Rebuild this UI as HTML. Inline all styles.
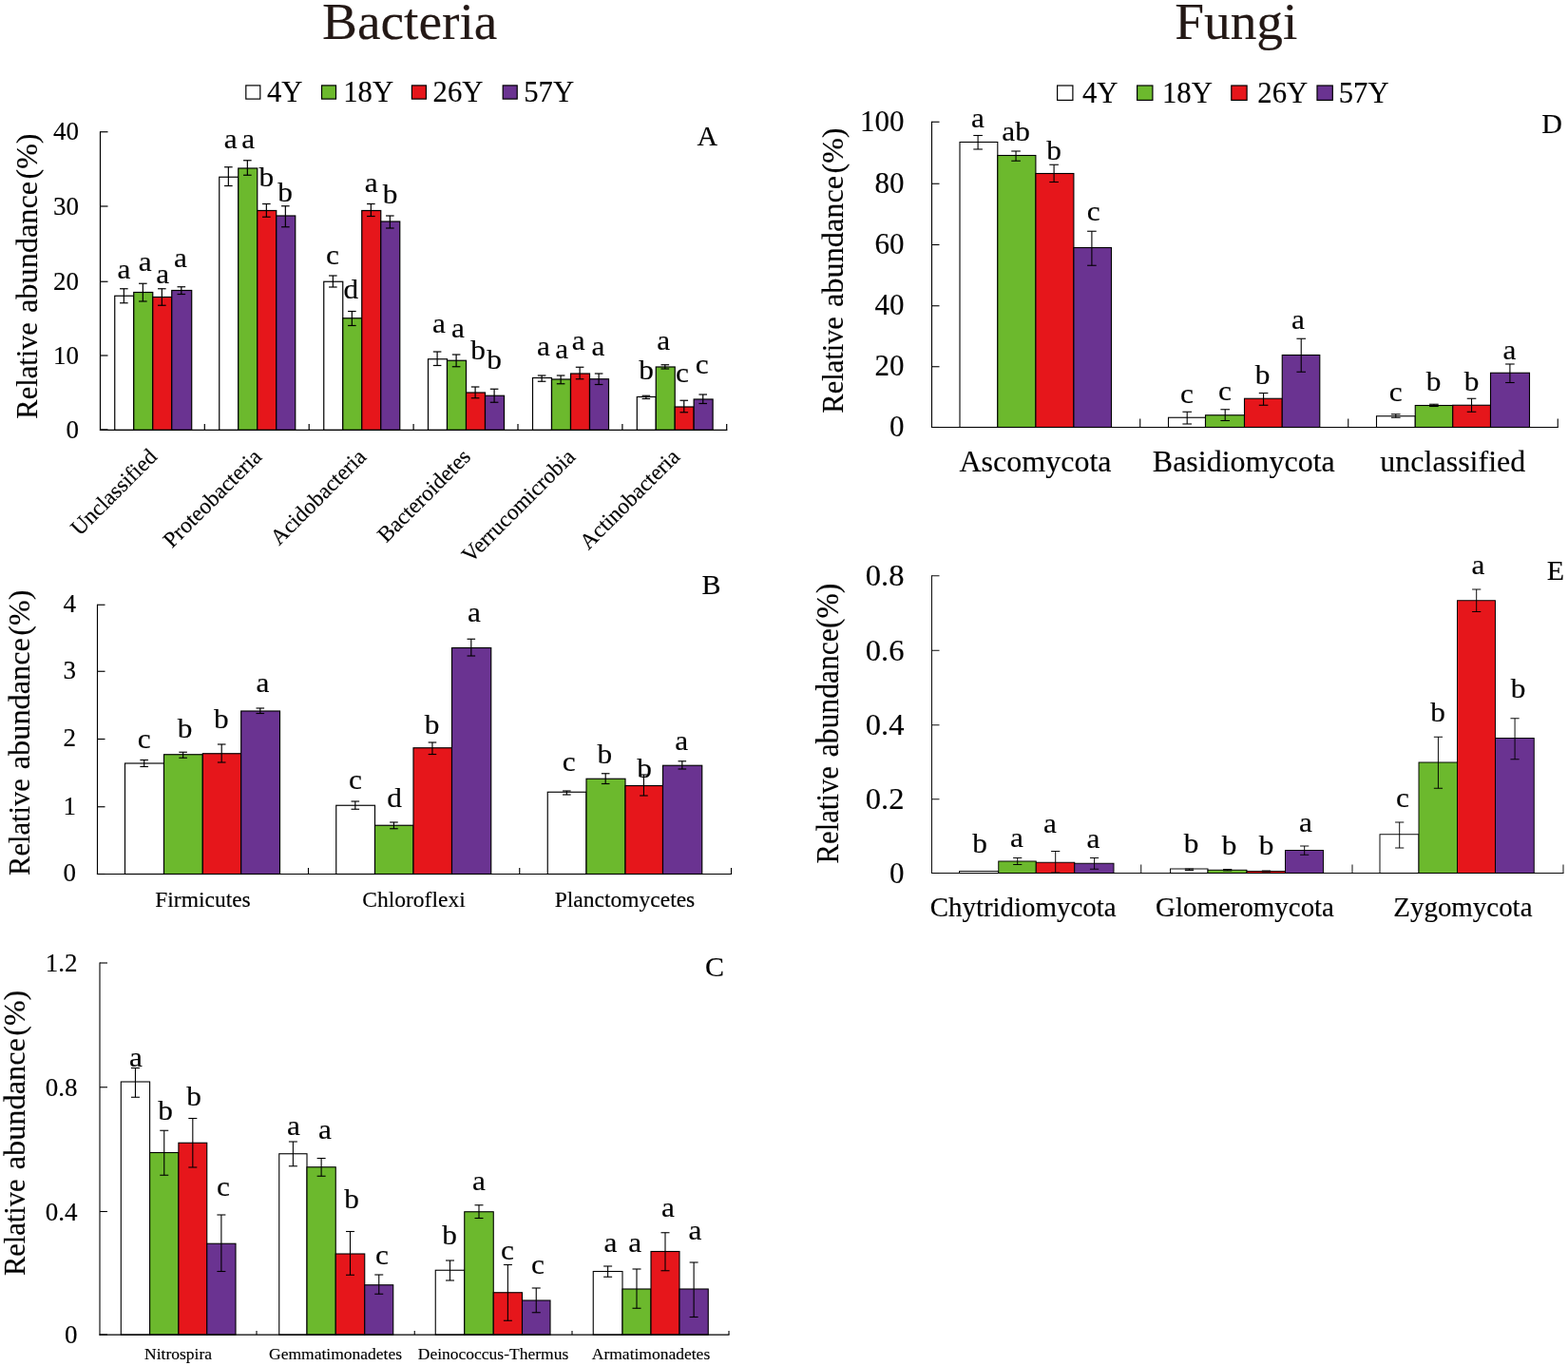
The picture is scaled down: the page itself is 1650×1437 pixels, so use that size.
<!DOCTYPE html>
<html lang="en">
<head>
<meta charset="utf-8">
<title>Bacteria and Fungi relative abundance</title>
<style>
html,body{margin:0;padding:0;background:#fff;}
body{width:1650px;height:1437px;overflow:hidden;}
svg{display:block;}
svg text.ttl{fill:#231815;stroke:#231815;}
svg text{font-family:"Liberation Serif","Times New Roman",Times,serif;fill:#000;stroke:#000;stroke-width:0.15px;stroke-linejoin:round;}
</style>
</head>
<body>
<svg width="1650" height="1437" viewBox="0 0 1650 1437" shape-rendering="geometricPrecision">
<rect x="0" y="0" width="1650" height="1437" fill="#ffffff"/>
<text transform="translate(431.20 41.30) scale(1.026 1)" font-size="54" text-anchor="middle" class="ttl">Bacteria</text>
<text transform="translate(1300.80 41.30) scale(1.026 1)" font-size="54" text-anchor="middle" class="ttl">Fungi</text>
<rect x="258.80" y="89.90" width="15.00" height="14.20" fill="#ffffff" stroke="#000" stroke-width="1.2"/>
<text transform="translate(281.00 106.70)" font-size="30.7" text-anchor="start">4Y</text>
<rect x="338.50" y="89.90" width="15.00" height="14.20" fill="#6cb92d" stroke="#000" stroke-width="1.2"/>
<text transform="translate(361.20 106.70)" font-size="30.7" text-anchor="start">18Y</text>
<rect x="433.40" y="89.90" width="15.00" height="14.20" fill="#e6161b" stroke="#000" stroke-width="1.2"/>
<text transform="translate(455.60 106.70)" font-size="30.7" text-anchor="start">26Y</text>
<rect x="529.20" y="89.90" width="15.00" height="14.20" fill="#6a3391" stroke="#000" stroke-width="1.2"/>
<text transform="translate(551.20 106.70)" font-size="30.7" text-anchor="start">57Y</text>
<rect x="1112.60" y="90.00" width="16.30" height="15.40" fill="#ffffff" stroke="#000" stroke-width="1.2"/>
<text transform="translate(1139.00 107.60)" font-size="30.7" text-anchor="start">4Y</text>
<rect x="1196.60" y="90.00" width="16.30" height="15.40" fill="#6cb92d" stroke="#000" stroke-width="1.2"/>
<text transform="translate(1223.00 107.60)" font-size="30.7" text-anchor="start">18Y</text>
<rect x="1295.80" y="90.00" width="16.30" height="15.40" fill="#e6161b" stroke="#000" stroke-width="1.2"/>
<text transform="translate(1323.30 107.60)" font-size="30.7" text-anchor="start">26Y</text>
<rect x="1386.00" y="90.00" width="16.30" height="15.40" fill="#6a3391" stroke="#000" stroke-width="1.2"/>
<text transform="translate(1408.70 107.60)" font-size="30.7" text-anchor="start">57Y</text>
<rect x="120.75" y="311.25" width="20.00" height="141.20" fill="#ffffff" stroke="#000" stroke-width="1.2"/>
<rect x="140.75" y="307.50" width="20.00" height="144.95" fill="#6cb92d" stroke="#000" stroke-width="1.2"/>
<rect x="160.75" y="312.50" width="20.00" height="139.95" fill="#e6161b" stroke="#000" stroke-width="1.2"/>
<rect x="180.75" y="305.50" width="20.95" height="146.95" fill="#6a3391" stroke="#000" stroke-width="1.2"/>
<rect x="230.75" y="186.25" width="20.00" height="266.20" fill="#ffffff" stroke="#000" stroke-width="1.2"/>
<rect x="250.75" y="177.00" width="20.00" height="275.45" fill="#6cb92d" stroke="#000" stroke-width="1.2"/>
<rect x="270.75" y="221.50" width="20.00" height="230.95" fill="#e6161b" stroke="#000" stroke-width="1.2"/>
<rect x="290.75" y="227.00" width="20.00" height="225.45" fill="#6a3391" stroke="#000" stroke-width="1.2"/>
<rect x="340.75" y="296.25" width="20.00" height="156.20" fill="#ffffff" stroke="#000" stroke-width="1.2"/>
<rect x="360.75" y="334.75" width="20.00" height="117.70" fill="#6cb92d" stroke="#000" stroke-width="1.2"/>
<rect x="380.75" y="221.50" width="20.00" height="230.95" fill="#e6161b" stroke="#000" stroke-width="1.2"/>
<rect x="400.75" y="233.00" width="20.00" height="219.45" fill="#6a3391" stroke="#000" stroke-width="1.2"/>
<rect x="450.50" y="377.75" width="20.00" height="74.70" fill="#ffffff" stroke="#000" stroke-width="1.2"/>
<rect x="470.50" y="379.25" width="20.00" height="73.20" fill="#6cb92d" stroke="#000" stroke-width="1.2"/>
<rect x="490.50" y="413.00" width="20.00" height="39.45" fill="#e6161b" stroke="#000" stroke-width="1.2"/>
<rect x="510.50" y="416.25" width="20.00" height="36.20" fill="#6a3391" stroke="#000" stroke-width="1.2"/>
<rect x="560.50" y="397.50" width="20.00" height="54.95" fill="#ffffff" stroke="#000" stroke-width="1.2"/>
<rect x="580.50" y="399.00" width="20.00" height="53.45" fill="#6cb92d" stroke="#000" stroke-width="1.2"/>
<rect x="600.50" y="393.00" width="20.00" height="59.45" fill="#e6161b" stroke="#000" stroke-width="1.2"/>
<rect x="620.50" y="398.75" width="20.00" height="53.70" fill="#6a3391" stroke="#000" stroke-width="1.2"/>
<rect x="670.30" y="417.50" width="19.95" height="34.95" fill="#ffffff" stroke="#000" stroke-width="1.2"/>
<rect x="690.25" y="386.00" width="19.95" height="66.45" fill="#6cb92d" stroke="#000" stroke-width="1.2"/>
<rect x="710.20" y="428.00" width="19.95" height="24.45" fill="#e6161b" stroke="#000" stroke-width="1.2"/>
<rect x="730.15" y="420.00" width="19.95" height="32.45" fill="#6a3391" stroke="#000" stroke-width="1.2"/>
<line x1="130.35" y1="303.75" x2="130.35" y2="318.75" stroke="#000" stroke-width="1.2"/>
<line x1="126.05" y1="303.75" x2="134.65" y2="303.75" stroke="#000" stroke-width="1.2"/>
<line x1="126.05" y1="318.75" x2="134.65" y2="318.75" stroke="#000" stroke-width="1.2"/>
<line x1="150.35" y1="298.25" x2="150.35" y2="317.00" stroke="#000" stroke-width="1.2"/>
<line x1="146.05" y1="298.25" x2="154.65" y2="298.25" stroke="#000" stroke-width="1.2"/>
<line x1="146.05" y1="317.00" x2="154.65" y2="317.00" stroke="#000" stroke-width="1.2"/>
<line x1="170.35" y1="303.75" x2="170.35" y2="321.25" stroke="#000" stroke-width="1.2"/>
<line x1="166.05" y1="303.75" x2="174.65" y2="303.75" stroke="#000" stroke-width="1.2"/>
<line x1="166.05" y1="321.25" x2="174.65" y2="321.25" stroke="#000" stroke-width="1.2"/>
<line x1="190.82" y1="301.75" x2="190.82" y2="309.50" stroke="#000" stroke-width="1.2"/>
<line x1="186.52" y1="301.75" x2="195.12" y2="301.75" stroke="#000" stroke-width="1.2"/>
<line x1="186.52" y1="309.50" x2="195.12" y2="309.50" stroke="#000" stroke-width="1.2"/>
<line x1="240.35" y1="175.75" x2="240.35" y2="195.50" stroke="#000" stroke-width="1.2"/>
<line x1="236.05" y1="175.75" x2="244.65" y2="175.75" stroke="#000" stroke-width="1.2"/>
<line x1="236.05" y1="195.50" x2="244.65" y2="195.50" stroke="#000" stroke-width="1.2"/>
<line x1="260.35" y1="168.75" x2="260.35" y2="184.25" stroke="#000" stroke-width="1.2"/>
<line x1="256.05" y1="168.75" x2="264.65" y2="168.75" stroke="#000" stroke-width="1.2"/>
<line x1="256.05" y1="184.25" x2="264.65" y2="184.25" stroke="#000" stroke-width="1.2"/>
<line x1="280.35" y1="214.50" x2="280.35" y2="228.25" stroke="#000" stroke-width="1.2"/>
<line x1="276.05" y1="214.50" x2="284.65" y2="214.50" stroke="#000" stroke-width="1.2"/>
<line x1="276.05" y1="228.25" x2="284.65" y2="228.25" stroke="#000" stroke-width="1.2"/>
<line x1="300.35" y1="216.75" x2="300.35" y2="238.75" stroke="#000" stroke-width="1.2"/>
<line x1="296.05" y1="216.75" x2="304.65" y2="216.75" stroke="#000" stroke-width="1.2"/>
<line x1="296.05" y1="238.75" x2="304.65" y2="238.75" stroke="#000" stroke-width="1.2"/>
<line x1="350.35" y1="290.00" x2="350.35" y2="302.00" stroke="#000" stroke-width="1.2"/>
<line x1="346.05" y1="290.00" x2="354.65" y2="290.00" stroke="#000" stroke-width="1.2"/>
<line x1="346.05" y1="302.00" x2="354.65" y2="302.00" stroke="#000" stroke-width="1.2"/>
<line x1="370.35" y1="327.50" x2="370.35" y2="342.50" stroke="#000" stroke-width="1.2"/>
<line x1="366.05" y1="327.50" x2="374.65" y2="327.50" stroke="#000" stroke-width="1.2"/>
<line x1="366.05" y1="342.50" x2="374.65" y2="342.50" stroke="#000" stroke-width="1.2"/>
<line x1="390.35" y1="214.50" x2="390.35" y2="227.50" stroke="#000" stroke-width="1.2"/>
<line x1="386.05" y1="214.50" x2="394.65" y2="214.50" stroke="#000" stroke-width="1.2"/>
<line x1="386.05" y1="227.50" x2="394.65" y2="227.50" stroke="#000" stroke-width="1.2"/>
<line x1="410.35" y1="227.00" x2="410.35" y2="240.00" stroke="#000" stroke-width="1.2"/>
<line x1="406.05" y1="227.00" x2="414.65" y2="227.00" stroke="#000" stroke-width="1.2"/>
<line x1="406.05" y1="240.00" x2="414.65" y2="240.00" stroke="#000" stroke-width="1.2"/>
<line x1="460.10" y1="370.00" x2="460.10" y2="384.50" stroke="#000" stroke-width="1.2"/>
<line x1="455.80" y1="370.00" x2="464.40" y2="370.00" stroke="#000" stroke-width="1.2"/>
<line x1="455.80" y1="384.50" x2="464.40" y2="384.50" stroke="#000" stroke-width="1.2"/>
<line x1="480.10" y1="373.00" x2="480.10" y2="385.75" stroke="#000" stroke-width="1.2"/>
<line x1="475.80" y1="373.00" x2="484.40" y2="373.00" stroke="#000" stroke-width="1.2"/>
<line x1="475.80" y1="385.75" x2="484.40" y2="385.75" stroke="#000" stroke-width="1.2"/>
<line x1="500.10" y1="407.00" x2="500.10" y2="418.75" stroke="#000" stroke-width="1.2"/>
<line x1="495.80" y1="407.00" x2="504.40" y2="407.00" stroke="#000" stroke-width="1.2"/>
<line x1="495.80" y1="418.75" x2="504.40" y2="418.75" stroke="#000" stroke-width="1.2"/>
<line x1="520.10" y1="409.25" x2="520.10" y2="423.25" stroke="#000" stroke-width="1.2"/>
<line x1="515.80" y1="409.25" x2="524.40" y2="409.25" stroke="#000" stroke-width="1.2"/>
<line x1="515.80" y1="423.25" x2="524.40" y2="423.25" stroke="#000" stroke-width="1.2"/>
<line x1="570.10" y1="395.00" x2="570.10" y2="401.25" stroke="#000" stroke-width="1.2"/>
<line x1="565.80" y1="395.00" x2="574.40" y2="395.00" stroke="#000" stroke-width="1.2"/>
<line x1="565.80" y1="401.25" x2="574.40" y2="401.25" stroke="#000" stroke-width="1.2"/>
<line x1="590.10" y1="395.00" x2="590.10" y2="403.75" stroke="#000" stroke-width="1.2"/>
<line x1="585.80" y1="395.00" x2="594.40" y2="395.00" stroke="#000" stroke-width="1.2"/>
<line x1="585.80" y1="403.75" x2="594.40" y2="403.75" stroke="#000" stroke-width="1.2"/>
<line x1="610.10" y1="386.25" x2="610.10" y2="398.75" stroke="#000" stroke-width="1.2"/>
<line x1="605.80" y1="386.25" x2="614.40" y2="386.25" stroke="#000" stroke-width="1.2"/>
<line x1="605.80" y1="398.75" x2="614.40" y2="398.75" stroke="#000" stroke-width="1.2"/>
<line x1="630.10" y1="393.00" x2="630.10" y2="404.50" stroke="#000" stroke-width="1.2"/>
<line x1="625.80" y1="393.00" x2="634.40" y2="393.00" stroke="#000" stroke-width="1.2"/>
<line x1="625.80" y1="404.50" x2="634.40" y2="404.50" stroke="#000" stroke-width="1.2"/>
<line x1="679.88" y1="416.25" x2="679.88" y2="419.50" stroke="#000" stroke-width="1.2"/>
<line x1="675.58" y1="416.25" x2="684.17" y2="416.25" stroke="#000" stroke-width="1.2"/>
<line x1="675.58" y1="419.50" x2="684.17" y2="419.50" stroke="#000" stroke-width="1.2"/>
<line x1="699.82" y1="383.75" x2="699.82" y2="388.00" stroke="#000" stroke-width="1.2"/>
<line x1="695.52" y1="383.75" x2="704.12" y2="383.75" stroke="#000" stroke-width="1.2"/>
<line x1="695.52" y1="388.00" x2="704.12" y2="388.00" stroke="#000" stroke-width="1.2"/>
<line x1="719.77" y1="421.25" x2="719.77" y2="433.75" stroke="#000" stroke-width="1.2"/>
<line x1="715.48" y1="421.25" x2="724.07" y2="421.25" stroke="#000" stroke-width="1.2"/>
<line x1="715.48" y1="433.75" x2="724.07" y2="433.75" stroke="#000" stroke-width="1.2"/>
<line x1="739.73" y1="415.00" x2="739.73" y2="424.50" stroke="#000" stroke-width="1.2"/>
<line x1="735.43" y1="415.00" x2="744.02" y2="415.00" stroke="#000" stroke-width="1.2"/>
<line x1="735.43" y1="424.50" x2="744.02" y2="424.50" stroke="#000" stroke-width="1.2"/>
<line x1="105.50" y1="138.15" x2="105.50" y2="453.05" stroke="#000" stroke-width="1.2"/>
<line x1="104.90" y1="452.45" x2="765.30" y2="452.45" stroke="#000" stroke-width="1.2"/>
<line x1="105.50" y1="138.75" x2="113.50" y2="138.75" stroke="#000" stroke-width="1.2"/>
<text transform="translate(83.00 147.25)" font-size="27" text-anchor="end">40</text>
<line x1="105.50" y1="217.00" x2="113.50" y2="217.00" stroke="#000" stroke-width="1.2"/>
<text transform="translate(83.00 225.50)" font-size="27" text-anchor="end">30</text>
<line x1="105.50" y1="296.25" x2="113.50" y2="296.25" stroke="#000" stroke-width="1.2"/>
<text transform="translate(83.00 304.75)" font-size="27" text-anchor="end">20</text>
<line x1="105.50" y1="374.00" x2="113.50" y2="374.00" stroke="#000" stroke-width="1.2"/>
<text transform="translate(83.00 382.50)" font-size="27" text-anchor="end">10</text>
<line x1="105.50" y1="452.00" x2="113.50" y2="452.00" stroke="#000" stroke-width="1.2"/>
<text transform="translate(83.00 460.50)" font-size="27" text-anchor="end">0</text>
<line x1="215.30" y1="452.45" x2="215.30" y2="445.95" stroke="#000" stroke-width="1.2"/>
<line x1="325.20" y1="452.45" x2="325.20" y2="445.95" stroke="#000" stroke-width="1.2"/>
<line x1="435.10" y1="452.45" x2="435.10" y2="445.95" stroke="#000" stroke-width="1.2"/>
<line x1="545.00" y1="452.45" x2="545.00" y2="445.95" stroke="#000" stroke-width="1.2"/>
<line x1="654.90" y1="452.45" x2="654.90" y2="445.95" stroke="#000" stroke-width="1.2"/>
<line x1="764.70" y1="452.45" x2="764.70" y2="445.95" stroke="#000" stroke-width="1.2"/>
<text transform="translate(130.50 292.80) scale(1.08 1)" font-size="29" text-anchor="middle" stroke-width="0.3">a</text>
<text transform="translate(152.70 285.30) scale(1.08 1)" font-size="29" text-anchor="middle" stroke-width="0.3">a</text>
<text transform="translate(171.25 297.80) scale(1.08 1)" font-size="29" text-anchor="middle" stroke-width="0.3">a</text>
<text transform="translate(190.00 280.50) scale(1.08 1)" font-size="29" text-anchor="middle" stroke-width="0.3">a</text>
<text transform="translate(242.70 156.00) scale(1.08 1)" font-size="29" text-anchor="middle" stroke-width="0.3">a</text>
<text transform="translate(261.25 156.00) scale(1.08 1)" font-size="29" text-anchor="middle" stroke-width="0.3">a</text>
<text transform="translate(280.30 195.80) scale(1.08 1)" font-size="29" text-anchor="middle" stroke-width="0.3">b</text>
<text transform="translate(300.00 211.80) scale(1.08 1)" font-size="29" text-anchor="middle" stroke-width="0.3">b</text>
<text transform="translate(350.00 277.80) scale(1.08 1)" font-size="29" text-anchor="middle" stroke-width="0.3">c</text>
<text transform="translate(369.25 313.80) scale(1.08 1)" font-size="29" text-anchor="middle" stroke-width="0.3">d</text>
<text transform="translate(390.75 202.30) scale(1.08 1)" font-size="29" text-anchor="middle" stroke-width="0.3">a</text>
<text transform="translate(410.50 213.50) scale(1.08 1)" font-size="29" text-anchor="middle" stroke-width="0.3">b</text>
<text transform="translate(462.00 350.00) scale(1.08 1)" font-size="29" text-anchor="middle" stroke-width="0.3">a</text>
<text transform="translate(482.00 355.00) scale(1.08 1)" font-size="29" text-anchor="middle" stroke-width="0.3">a</text>
<text transform="translate(503.00 378.00) scale(1.08 1)" font-size="29" text-anchor="middle" stroke-width="0.3">b</text>
<text transform="translate(520.00 388.00) scale(1.08 1)" font-size="29" text-anchor="middle" stroke-width="0.3">b</text>
<text transform="translate(572.00 373.75) scale(1.08 1)" font-size="29" text-anchor="middle" stroke-width="0.3">a</text>
<text transform="translate(591.25 377.00) scale(1.08 1)" font-size="29" text-anchor="middle" stroke-width="0.3">a</text>
<text transform="translate(608.75 367.50) scale(1.08 1)" font-size="29" text-anchor="middle" stroke-width="0.3">a</text>
<text transform="translate(629.50 373.75) scale(1.08 1)" font-size="29" text-anchor="middle" stroke-width="0.3">a</text>
<text transform="translate(680.00 398.75) scale(1.08 1)" font-size="29" text-anchor="middle" stroke-width="0.3">b</text>
<text transform="translate(698.25 367.50) scale(1.08 1)" font-size="29" text-anchor="middle" stroke-width="0.3">a</text>
<text transform="translate(718.00 402.00) scale(1.08 1)" font-size="29" text-anchor="middle" stroke-width="0.3">c</text>
<text transform="translate(738.75 393.00) scale(1.08 1)" font-size="29" text-anchor="middle" stroke-width="0.3">c</text>
<text transform="translate(39.40 439.80) rotate(-90)" font-size="32" text-anchor="start"><tspan x="-0.91" textLength="101.59" lengthAdjust="spacingAndGlyphs">Relative</tspan> <tspan x="110.77" textLength="138.17" lengthAdjust="spacingAndGlyphs">abundance</tspan> <tspan x="251.36" textLength="47.95" lengthAdjust="spacingAndGlyphs">(%)</tspan></text>
<text transform="translate(166.50 481.80) rotate(-45)" font-size="23.4" text-anchor="end">Unclassified</text>
<text transform="translate(276.50 481.80) rotate(-45)" font-size="23.4" text-anchor="end">Proteobacteria</text>
<text transform="translate(386.50 481.80) rotate(-45)" font-size="23.4" text-anchor="end">Acidobacteria</text>
<text transform="translate(496.50 481.80) rotate(-45)" font-size="23.4" text-anchor="end">Bacteroidetes</text>
<text transform="translate(606.50 481.80) rotate(-45)" font-size="23.4" text-anchor="end">Verrucomicrobia</text>
<text transform="translate(716.50 481.80) rotate(-45)" font-size="23.4" text-anchor="end">Actinobacteria</text>
<text transform="translate(744.25 152.60)" font-size="30" text-anchor="middle">A</text>
<rect x="131.50" y="803.00" width="41.00" height="116.50" fill="#ffffff" stroke="#000" stroke-width="1.15"/>
<rect x="172.50" y="793.75" width="40.80" height="125.75" fill="#6cb92d" stroke="#000" stroke-width="1.15"/>
<rect x="213.30" y="792.75" width="40.40" height="126.75" fill="#e6161b" stroke="#000" stroke-width="1.15"/>
<rect x="253.70" y="748.00" width="40.80" height="171.50" fill="#6a3391" stroke="#000" stroke-width="1.15"/>
<rect x="353.75" y="847.25" width="40.75" height="72.25" fill="#ffffff" stroke="#000" stroke-width="1.15"/>
<rect x="394.50" y="868.25" width="40.50" height="51.25" fill="#6cb92d" stroke="#000" stroke-width="1.15"/>
<rect x="435.00" y="786.75" width="40.50" height="132.75" fill="#e6161b" stroke="#000" stroke-width="1.15"/>
<rect x="475.50" y="681.50" width="41.25" height="238.00" fill="#6a3391" stroke="#000" stroke-width="1.15"/>
<rect x="576.25" y="833.25" width="40.75" height="86.25" fill="#ffffff" stroke="#000" stroke-width="1.15"/>
<rect x="617.00" y="819.25" width="41.00" height="100.25" fill="#6cb92d" stroke="#000" stroke-width="1.15"/>
<rect x="658.00" y="826.50" width="39.50" height="93.00" fill="#e6161b" stroke="#000" stroke-width="1.15"/>
<rect x="697.50" y="805.25" width="41.25" height="114.25" fill="#6a3391" stroke="#000" stroke-width="1.15"/>
<line x1="151.70" y1="799.50" x2="151.70" y2="806.50" stroke="#000" stroke-width="1.15"/>
<line x1="147.40" y1="799.50" x2="156.00" y2="799.50" stroke="#000" stroke-width="1.15"/>
<line x1="147.40" y1="806.50" x2="156.00" y2="806.50" stroke="#000" stroke-width="1.15"/>
<line x1="192.60" y1="791.25" x2="192.60" y2="797.25" stroke="#000" stroke-width="1.15"/>
<line x1="188.30" y1="791.25" x2="196.90" y2="791.25" stroke="#000" stroke-width="1.15"/>
<line x1="188.30" y1="797.25" x2="196.90" y2="797.25" stroke="#000" stroke-width="1.15"/>
<line x1="233.20" y1="783.00" x2="233.20" y2="802.00" stroke="#000" stroke-width="1.15"/>
<line x1="228.90" y1="783.00" x2="237.50" y2="783.00" stroke="#000" stroke-width="1.15"/>
<line x1="228.90" y1="802.00" x2="237.50" y2="802.00" stroke="#000" stroke-width="1.15"/>
<line x1="273.80" y1="745.00" x2="273.80" y2="750.50" stroke="#000" stroke-width="1.15"/>
<line x1="269.50" y1="745.00" x2="278.10" y2="745.00" stroke="#000" stroke-width="1.15"/>
<line x1="269.50" y1="750.50" x2="278.10" y2="750.50" stroke="#000" stroke-width="1.15"/>
<line x1="373.82" y1="843.00" x2="373.82" y2="851.25" stroke="#000" stroke-width="1.15"/>
<line x1="369.52" y1="843.00" x2="378.12" y2="843.00" stroke="#000" stroke-width="1.15"/>
<line x1="369.52" y1="851.25" x2="378.12" y2="851.25" stroke="#000" stroke-width="1.15"/>
<line x1="414.45" y1="865.00" x2="414.45" y2="871.75" stroke="#000" stroke-width="1.15"/>
<line x1="410.15" y1="865.00" x2="418.75" y2="865.00" stroke="#000" stroke-width="1.15"/>
<line x1="410.15" y1="871.75" x2="418.75" y2="871.75" stroke="#000" stroke-width="1.15"/>
<line x1="454.95" y1="781.00" x2="454.95" y2="793.50" stroke="#000" stroke-width="1.15"/>
<line x1="450.65" y1="781.00" x2="459.25" y2="781.00" stroke="#000" stroke-width="1.15"/>
<line x1="450.65" y1="793.50" x2="459.25" y2="793.50" stroke="#000" stroke-width="1.15"/>
<line x1="495.82" y1="672.25" x2="495.82" y2="690.00" stroke="#000" stroke-width="1.15"/>
<line x1="491.52" y1="672.25" x2="500.12" y2="672.25" stroke="#000" stroke-width="1.15"/>
<line x1="491.52" y1="690.00" x2="500.12" y2="690.00" stroke="#000" stroke-width="1.15"/>
<line x1="596.33" y1="832.00" x2="596.33" y2="836.00" stroke="#000" stroke-width="1.15"/>
<line x1="592.03" y1="832.00" x2="600.62" y2="832.00" stroke="#000" stroke-width="1.15"/>
<line x1="592.03" y1="836.00" x2="600.62" y2="836.00" stroke="#000" stroke-width="1.15"/>
<line x1="637.20" y1="813.75" x2="637.20" y2="824.50" stroke="#000" stroke-width="1.15"/>
<line x1="632.90" y1="813.75" x2="641.50" y2="813.75" stroke="#000" stroke-width="1.15"/>
<line x1="632.90" y1="824.50" x2="641.50" y2="824.50" stroke="#000" stroke-width="1.15"/>
<line x1="677.45" y1="815.00" x2="677.45" y2="837.00" stroke="#000" stroke-width="1.15"/>
<line x1="673.15" y1="815.00" x2="681.75" y2="815.00" stroke="#000" stroke-width="1.15"/>
<line x1="673.15" y1="837.00" x2="681.75" y2="837.00" stroke="#000" stroke-width="1.15"/>
<line x1="717.83" y1="800.75" x2="717.83" y2="809.00" stroke="#000" stroke-width="1.15"/>
<line x1="713.53" y1="800.75" x2="722.12" y2="800.75" stroke="#000" stroke-width="1.15"/>
<line x1="713.53" y1="809.00" x2="722.12" y2="809.00" stroke="#000" stroke-width="1.15"/>
<line x1="102.50" y1="635.67" x2="102.50" y2="920.08" stroke="#000" stroke-width="1.15"/>
<line x1="101.92" y1="919.50" x2="770.08" y2="919.50" stroke="#000" stroke-width="1.15"/>
<line x1="102.50" y1="636.25" x2="110.50" y2="636.25" stroke="#000" stroke-width="1.15"/>
<text transform="translate(80.00 644.05)" font-size="27" text-anchor="end">4</text>
<line x1="102.50" y1="706.25" x2="110.50" y2="706.25" stroke="#000" stroke-width="1.15"/>
<text transform="translate(80.00 714.05)" font-size="27" text-anchor="end">3</text>
<line x1="102.50" y1="777.50" x2="110.50" y2="777.50" stroke="#000" stroke-width="1.15"/>
<text transform="translate(80.00 785.30)" font-size="27" text-anchor="end">2</text>
<line x1="102.50" y1="848.75" x2="110.50" y2="848.75" stroke="#000" stroke-width="1.15"/>
<text transform="translate(80.00 856.55)" font-size="27" text-anchor="end">1</text>
<line x1="102.50" y1="919.50" x2="110.50" y2="919.50" stroke="#000" stroke-width="1.15"/>
<text transform="translate(80.00 927.30)" font-size="27" text-anchor="end">0</text>
<line x1="324.50" y1="919.50" x2="324.50" y2="913.00" stroke="#000" stroke-width="1.15"/>
<line x1="546.75" y1="919.50" x2="546.75" y2="913.00" stroke="#000" stroke-width="1.15"/>
<line x1="769.50" y1="919.50" x2="769.50" y2="913.00" stroke="#000" stroke-width="1.15"/>
<text transform="translate(151.80 787.40) scale(1.08 1)" font-size="29" text-anchor="middle" stroke-width="0.3">c</text>
<text transform="translate(194.50 775.60) scale(1.08 1)" font-size="29" text-anchor="middle" stroke-width="0.3">b</text>
<text transform="translate(232.80 765.90) scale(1.08 1)" font-size="29" text-anchor="middle" stroke-width="0.3">b</text>
<text transform="translate(276.50 727.70) scale(1.08 1)" font-size="29" text-anchor="middle" stroke-width="0.3">a</text>
<text transform="translate(374.00 830.30) scale(1.08 1)" font-size="29" text-anchor="middle" stroke-width="0.3">c</text>
<text transform="translate(415.00 849.00) scale(1.08 1)" font-size="29" text-anchor="middle" stroke-width="0.3">d</text>
<text transform="translate(454.50 771.70) scale(1.08 1)" font-size="29" text-anchor="middle" stroke-width="0.3">b</text>
<text transform="translate(499.00 654.00) scale(1.08 1)" font-size="29" text-anchor="middle" stroke-width="0.3">a</text>
<text transform="translate(598.60 811.20) scale(1.08 1)" font-size="29" text-anchor="middle" stroke-width="0.3">c</text>
<text transform="translate(636.40 802.50) scale(1.08 1)" font-size="29" text-anchor="middle" stroke-width="0.3">b</text>
<text transform="translate(678.00 818.00) scale(1.08 1)" font-size="29" text-anchor="middle" stroke-width="0.3">b</text>
<text transform="translate(717.30 788.50) scale(1.08 1)" font-size="29" text-anchor="middle" stroke-width="0.3">a</text>
<text transform="translate(30.50 920.00) rotate(-90)" font-size="32" text-anchor="start"><tspan x="-0.91" textLength="101.59" lengthAdjust="spacingAndGlyphs">Relative</tspan> <tspan x="110.77" textLength="138.17" lengthAdjust="spacingAndGlyphs">abundance</tspan> <tspan x="251.36" textLength="47.95" lengthAdjust="spacingAndGlyphs">(%)</tspan></text>
<text transform="translate(213.50 954.30)" font-size="23.5" text-anchor="middle">Firmicutes</text>
<text transform="translate(435.50 954.30)" font-size="23.5" text-anchor="middle">Chloroflexi</text>
<text transform="translate(657.50 954.30)" font-size="23.5" text-anchor="middle">Planctomycetes</text>
<text transform="translate(748.50 625.20)" font-size="30" text-anchor="middle">B</text>
<rect x="127.30" y="1138.00" width="30.30" height="266.10" fill="#ffffff" stroke="#000" stroke-width="1.1"/>
<rect x="157.60" y="1212.50" width="30.30" height="191.60" fill="#6cb92d" stroke="#000" stroke-width="1.1"/>
<rect x="187.90" y="1202.25" width="29.85" height="201.85" fill="#e6161b" stroke="#000" stroke-width="1.1"/>
<rect x="217.75" y="1308.25" width="30.25" height="95.85" fill="#6a3391" stroke="#000" stroke-width="1.1"/>
<rect x="293.75" y="1213.75" width="29.25" height="190.35" fill="#ffffff" stroke="#000" stroke-width="1.1"/>
<rect x="323.00" y="1227.75" width="30.25" height="176.35" fill="#6cb92d" stroke="#000" stroke-width="1.1"/>
<rect x="353.25" y="1319.00" width="30.50" height="85.10" fill="#e6161b" stroke="#000" stroke-width="1.1"/>
<rect x="383.75" y="1351.75" width="30.00" height="52.35" fill="#6a3391" stroke="#000" stroke-width="1.1"/>
<rect x="458.25" y="1336.25" width="30.50" height="67.85" fill="#ffffff" stroke="#000" stroke-width="1.1"/>
<rect x="488.75" y="1274.75" width="30.50" height="129.35" fill="#6cb92d" stroke="#000" stroke-width="1.1"/>
<rect x="519.25" y="1359.75" width="30.25" height="44.35" fill="#e6161b" stroke="#000" stroke-width="1.1"/>
<rect x="549.50" y="1368.00" width="29.50" height="36.10" fill="#6a3391" stroke="#000" stroke-width="1.1"/>
<rect x="624.25" y="1337.50" width="30.75" height="66.60" fill="#ffffff" stroke="#000" stroke-width="1.1"/>
<rect x="655.00" y="1356.00" width="30.00" height="48.10" fill="#6cb92d" stroke="#000" stroke-width="1.1"/>
<rect x="685.00" y="1316.50" width="30.00" height="87.60" fill="#e6161b" stroke="#000" stroke-width="1.1"/>
<rect x="715.00" y="1356.00" width="30.25" height="48.10" fill="#6a3391" stroke="#000" stroke-width="1.1"/>
<line x1="142.45" y1="1123.50" x2="142.45" y2="1154.25" stroke="#000" stroke-width="1.1"/>
<line x1="137.95" y1="1123.50" x2="146.95" y2="1123.50" stroke="#000" stroke-width="1.1"/>
<line x1="137.95" y1="1154.25" x2="146.95" y2="1154.25" stroke="#000" stroke-width="1.1"/>
<line x1="172.75" y1="1189.25" x2="172.75" y2="1236.25" stroke="#000" stroke-width="1.1"/>
<line x1="168.25" y1="1189.25" x2="177.25" y2="1189.25" stroke="#000" stroke-width="1.1"/>
<line x1="168.25" y1="1236.25" x2="177.25" y2="1236.25" stroke="#000" stroke-width="1.1"/>
<line x1="202.82" y1="1176.50" x2="202.82" y2="1228.00" stroke="#000" stroke-width="1.1"/>
<line x1="198.32" y1="1176.50" x2="207.32" y2="1176.50" stroke="#000" stroke-width="1.1"/>
<line x1="198.32" y1="1228.00" x2="207.32" y2="1228.00" stroke="#000" stroke-width="1.1"/>
<line x1="232.88" y1="1278.00" x2="232.88" y2="1337.50" stroke="#000" stroke-width="1.1"/>
<line x1="228.38" y1="1278.00" x2="237.38" y2="1278.00" stroke="#000" stroke-width="1.1"/>
<line x1="228.38" y1="1337.50" x2="237.38" y2="1337.50" stroke="#000" stroke-width="1.1"/>
<line x1="308.38" y1="1201.00" x2="308.38" y2="1226.75" stroke="#000" stroke-width="1.1"/>
<line x1="303.88" y1="1201.00" x2="312.88" y2="1201.00" stroke="#000" stroke-width="1.1"/>
<line x1="303.88" y1="1226.75" x2="312.88" y2="1226.75" stroke="#000" stroke-width="1.1"/>
<line x1="338.12" y1="1218.50" x2="338.12" y2="1237.25" stroke="#000" stroke-width="1.1"/>
<line x1="333.62" y1="1218.50" x2="342.62" y2="1218.50" stroke="#000" stroke-width="1.1"/>
<line x1="333.62" y1="1237.25" x2="342.62" y2="1237.25" stroke="#000" stroke-width="1.1"/>
<line x1="368.50" y1="1295.50" x2="368.50" y2="1341.25" stroke="#000" stroke-width="1.1"/>
<line x1="364.00" y1="1295.50" x2="373.00" y2="1295.50" stroke="#000" stroke-width="1.1"/>
<line x1="364.00" y1="1341.25" x2="373.00" y2="1341.25" stroke="#000" stroke-width="1.1"/>
<line x1="398.75" y1="1341.00" x2="398.75" y2="1361.25" stroke="#000" stroke-width="1.1"/>
<line x1="394.25" y1="1341.00" x2="403.25" y2="1341.00" stroke="#000" stroke-width="1.1"/>
<line x1="394.25" y1="1361.25" x2="403.25" y2="1361.25" stroke="#000" stroke-width="1.1"/>
<line x1="473.50" y1="1326.00" x2="473.50" y2="1347.00" stroke="#000" stroke-width="1.1"/>
<line x1="469.00" y1="1326.00" x2="478.00" y2="1326.00" stroke="#000" stroke-width="1.1"/>
<line x1="469.00" y1="1347.00" x2="478.00" y2="1347.00" stroke="#000" stroke-width="1.1"/>
<line x1="504.00" y1="1267.75" x2="504.00" y2="1281.50" stroke="#000" stroke-width="1.1"/>
<line x1="499.50" y1="1267.75" x2="508.50" y2="1267.75" stroke="#000" stroke-width="1.1"/>
<line x1="499.50" y1="1281.50" x2="508.50" y2="1281.50" stroke="#000" stroke-width="1.1"/>
<line x1="534.38" y1="1330.50" x2="534.38" y2="1389.25" stroke="#000" stroke-width="1.1"/>
<line x1="529.88" y1="1330.50" x2="538.88" y2="1330.50" stroke="#000" stroke-width="1.1"/>
<line x1="529.88" y1="1389.25" x2="538.88" y2="1389.25" stroke="#000" stroke-width="1.1"/>
<line x1="564.25" y1="1355.00" x2="564.25" y2="1380.75" stroke="#000" stroke-width="1.1"/>
<line x1="559.75" y1="1355.00" x2="568.75" y2="1355.00" stroke="#000" stroke-width="1.1"/>
<line x1="559.75" y1="1380.75" x2="568.75" y2="1380.75" stroke="#000" stroke-width="1.1"/>
<line x1="639.62" y1="1332.00" x2="639.62" y2="1343.25" stroke="#000" stroke-width="1.1"/>
<line x1="635.12" y1="1332.00" x2="644.12" y2="1332.00" stroke="#000" stroke-width="1.1"/>
<line x1="635.12" y1="1343.25" x2="644.12" y2="1343.25" stroke="#000" stroke-width="1.1"/>
<line x1="670.00" y1="1335.00" x2="670.00" y2="1376.25" stroke="#000" stroke-width="1.1"/>
<line x1="665.50" y1="1335.00" x2="674.50" y2="1335.00" stroke="#000" stroke-width="1.1"/>
<line x1="665.50" y1="1376.25" x2="674.50" y2="1376.25" stroke="#000" stroke-width="1.1"/>
<line x1="700.00" y1="1296.75" x2="700.00" y2="1336.75" stroke="#000" stroke-width="1.1"/>
<line x1="695.50" y1="1296.75" x2="704.50" y2="1296.75" stroke="#000" stroke-width="1.1"/>
<line x1="695.50" y1="1336.75" x2="704.50" y2="1336.75" stroke="#000" stroke-width="1.1"/>
<line x1="730.12" y1="1328.00" x2="730.12" y2="1385.50" stroke="#000" stroke-width="1.1"/>
<line x1="725.62" y1="1328.00" x2="734.62" y2="1328.00" stroke="#000" stroke-width="1.1"/>
<line x1="725.62" y1="1385.50" x2="734.62" y2="1385.50" stroke="#000" stroke-width="1.1"/>
<line x1="105.00" y1="1012.45" x2="105.00" y2="1404.65" stroke="#000" stroke-width="1.1"/>
<line x1="104.45" y1="1404.10" x2="767.55" y2="1404.10" stroke="#000" stroke-width="1.1"/>
<line x1="105.00" y1="1013.00" x2="113.00" y2="1013.00" stroke="#000" stroke-width="1.1"/>
<text transform="translate(81.50 1022.00)" font-size="27" text-anchor="end">1.2</text>
<line x1="105.00" y1="1143.75" x2="113.00" y2="1143.75" stroke="#000" stroke-width="1.1"/>
<text transform="translate(81.50 1152.75)" font-size="27" text-anchor="end">0.8</text>
<line x1="105.00" y1="1274.50" x2="113.00" y2="1274.50" stroke="#000" stroke-width="1.1"/>
<text transform="translate(81.50 1283.50)" font-size="27" text-anchor="end">0.4</text>
<line x1="105.00" y1="1404.00" x2="113.00" y2="1404.00" stroke="#000" stroke-width="1.1"/>
<text transform="translate(81.50 1413.00)" font-size="27" text-anchor="end">0</text>
<line x1="270.00" y1="1404.10" x2="270.00" y2="1400.10" stroke="#000" stroke-width="1.1"/>
<line x1="436.25" y1="1404.10" x2="436.25" y2="1400.10" stroke="#000" stroke-width="1.1"/>
<line x1="602.00" y1="1404.10" x2="602.00" y2="1400.10" stroke="#000" stroke-width="1.1"/>
<line x1="767.00" y1="1404.10" x2="767.00" y2="1400.10" stroke="#000" stroke-width="1.1"/>
<text transform="translate(143.00 1121.50) scale(1.08 1)" font-size="29" text-anchor="middle" stroke-width="0.3">a</text>
<text transform="translate(174.00 1177.50) scale(1.08 1)" font-size="29" text-anchor="middle" stroke-width="0.3">b</text>
<text transform="translate(204.00 1162.50) scale(1.08 1)" font-size="29" text-anchor="middle" stroke-width="0.3">b</text>
<text transform="translate(235.00 1257.70) scale(1.08 1)" font-size="29" text-anchor="middle" stroke-width="0.3">c</text>
<text transform="translate(309.00 1193.50) scale(1.08 1)" font-size="29" text-anchor="middle" stroke-width="0.3">a</text>
<text transform="translate(342.00 1197.50) scale(1.08 1)" font-size="29" text-anchor="middle" stroke-width="0.3">a</text>
<text transform="translate(370.00 1270.50) scale(1.08 1)" font-size="29" text-anchor="middle" stroke-width="0.3">b</text>
<text transform="translate(402.00 1330.00) scale(1.08 1)" font-size="29" text-anchor="middle" stroke-width="0.3">c</text>
<text transform="translate(473.00 1308.50) scale(1.08 1)" font-size="29" text-anchor="middle" stroke-width="0.3">b</text>
<text transform="translate(504.00 1251.50) scale(1.08 1)" font-size="29" text-anchor="middle" stroke-width="0.3">a</text>
<text transform="translate(534.00 1324.70) scale(1.08 1)" font-size="29" text-anchor="middle" stroke-width="0.3">c</text>
<text transform="translate(566.00 1339.50) scale(1.08 1)" font-size="29" text-anchor="middle" stroke-width="0.3">c</text>
<text transform="translate(642.50 1317.00) scale(1.08 1)" font-size="29" text-anchor="middle" stroke-width="0.3">a</text>
<text transform="translate(668.30 1317.00) scale(1.08 1)" font-size="29" text-anchor="middle" stroke-width="0.3">a</text>
<text transform="translate(703.00 1279.50) scale(1.08 1)" font-size="29" text-anchor="middle" stroke-width="0.3">a</text>
<text transform="translate(731.50 1304.00) scale(1.08 1)" font-size="29" text-anchor="middle" stroke-width="0.3">a</text>
<text transform="translate(25.80 1341.10) rotate(-90)" font-size="32" text-anchor="start"><tspan x="-0.91" textLength="101.59" lengthAdjust="spacingAndGlyphs">Relative</tspan> <tspan x="110.77" textLength="138.17" lengthAdjust="spacingAndGlyphs">abundance</tspan> <tspan x="251.36" textLength="47.95" lengthAdjust="spacingAndGlyphs">(%)</tspan></text>
<text transform="translate(187.50 1430.00)" font-size="17.5" text-anchor="middle">Nitrospira</text>
<text transform="translate(353.00 1430.00)" font-size="17.5" text-anchor="middle">Gemmatimonadetes</text>
<text transform="translate(519.00 1430.00)" font-size="17.5" text-anchor="middle">Deinococcus-Thermus</text>
<text transform="translate(685.00 1430.00)" font-size="17.5" text-anchor="middle">Armatimonadetes</text>
<text transform="translate(752.00 1027.00)" font-size="30" text-anchor="middle">C</text>
<rect x="1010.00" y="149.50" width="39.80" height="300.00" fill="#ffffff" stroke="#000" stroke-width="1.1"/>
<rect x="1049.80" y="163.50" width="40.10" height="286.00" fill="#6cb92d" stroke="#000" stroke-width="1.1"/>
<rect x="1089.90" y="182.50" width="40.00" height="267.00" fill="#e6161b" stroke="#000" stroke-width="1.1"/>
<rect x="1129.90" y="260.50" width="39.60" height="189.00" fill="#6a3391" stroke="#000" stroke-width="1.1"/>
<rect x="1229.50" y="439.25" width="39.00" height="10.25" fill="#ffffff" stroke="#000" stroke-width="1.1"/>
<rect x="1268.50" y="436.75" width="41.00" height="12.75" fill="#6cb92d" stroke="#000" stroke-width="1.1"/>
<rect x="1309.50" y="419.25" width="39.75" height="30.25" fill="#e6161b" stroke="#000" stroke-width="1.1"/>
<rect x="1349.25" y="373.50" width="39.55" height="76.00" fill="#6a3391" stroke="#000" stroke-width="1.1"/>
<rect x="1448.50" y="437.75" width="40.75" height="11.75" fill="#ffffff" stroke="#000" stroke-width="1.1"/>
<rect x="1489.25" y="426.50" width="39.50" height="23.00" fill="#6cb92d" stroke="#000" stroke-width="1.1"/>
<rect x="1528.75" y="426.25" width="39.75" height="23.25" fill="#e6161b" stroke="#000" stroke-width="1.1"/>
<rect x="1568.50" y="392.25" width="41.00" height="57.25" fill="#6a3391" stroke="#000" stroke-width="1.1"/>
<line x1="1029.10" y1="142.50" x2="1029.10" y2="157.00" stroke="#000" stroke-width="1.1"/>
<line x1="1024.30" y1="142.50" x2="1033.90" y2="142.50" stroke="#000" stroke-width="1.1"/>
<line x1="1024.30" y1="157.00" x2="1033.90" y2="157.00" stroke="#000" stroke-width="1.1"/>
<line x1="1069.05" y1="159.00" x2="1069.05" y2="169.25" stroke="#000" stroke-width="1.1"/>
<line x1="1064.25" y1="159.00" x2="1073.85" y2="159.00" stroke="#000" stroke-width="1.1"/>
<line x1="1064.25" y1="169.25" x2="1073.85" y2="169.25" stroke="#000" stroke-width="1.1"/>
<line x1="1109.10" y1="173.25" x2="1109.10" y2="191.50" stroke="#000" stroke-width="1.1"/>
<line x1="1104.30" y1="173.25" x2="1113.90" y2="173.25" stroke="#000" stroke-width="1.1"/>
<line x1="1104.30" y1="191.50" x2="1113.90" y2="191.50" stroke="#000" stroke-width="1.1"/>
<line x1="1148.90" y1="243.25" x2="1148.90" y2="279.25" stroke="#000" stroke-width="1.1"/>
<line x1="1144.10" y1="243.25" x2="1153.70" y2="243.25" stroke="#000" stroke-width="1.1"/>
<line x1="1144.10" y1="279.25" x2="1153.70" y2="279.25" stroke="#000" stroke-width="1.1"/>
<line x1="1249.20" y1="433.25" x2="1249.20" y2="446.00" stroke="#000" stroke-width="1.1"/>
<line x1="1244.40" y1="433.25" x2="1254.00" y2="433.25" stroke="#000" stroke-width="1.1"/>
<line x1="1244.40" y1="446.00" x2="1254.00" y2="446.00" stroke="#000" stroke-width="1.1"/>
<line x1="1289.20" y1="430.75" x2="1289.20" y2="442.50" stroke="#000" stroke-width="1.1"/>
<line x1="1284.40" y1="430.75" x2="1294.00" y2="430.75" stroke="#000" stroke-width="1.1"/>
<line x1="1284.40" y1="442.50" x2="1294.00" y2="442.50" stroke="#000" stroke-width="1.1"/>
<line x1="1329.58" y1="413.50" x2="1329.58" y2="426.25" stroke="#000" stroke-width="1.1"/>
<line x1="1324.78" y1="413.50" x2="1334.38" y2="413.50" stroke="#000" stroke-width="1.1"/>
<line x1="1324.78" y1="426.25" x2="1334.38" y2="426.25" stroke="#000" stroke-width="1.1"/>
<line x1="1369.23" y1="356.25" x2="1369.23" y2="391.25" stroke="#000" stroke-width="1.1"/>
<line x1="1364.43" y1="356.25" x2="1374.03" y2="356.25" stroke="#000" stroke-width="1.1"/>
<line x1="1364.43" y1="391.25" x2="1374.03" y2="391.25" stroke="#000" stroke-width="1.1"/>
<line x1="1468.78" y1="435.75" x2="1468.78" y2="439.25" stroke="#000" stroke-width="1.1"/>
<line x1="1463.98" y1="435.75" x2="1473.58" y2="435.75" stroke="#000" stroke-width="1.1"/>
<line x1="1463.98" y1="439.25" x2="1473.58" y2="439.25" stroke="#000" stroke-width="1.1"/>
<line x1="1508.90" y1="425.25" x2="1508.90" y2="427.50" stroke="#000" stroke-width="1.1"/>
<line x1="1504.10" y1="425.25" x2="1513.70" y2="425.25" stroke="#000" stroke-width="1.1"/>
<line x1="1504.10" y1="427.50" x2="1513.70" y2="427.50" stroke="#000" stroke-width="1.1"/>
<line x1="1548.53" y1="419.25" x2="1548.53" y2="433.25" stroke="#000" stroke-width="1.1"/>
<line x1="1543.73" y1="419.25" x2="1553.33" y2="419.25" stroke="#000" stroke-width="1.1"/>
<line x1="1543.73" y1="433.25" x2="1553.33" y2="433.25" stroke="#000" stroke-width="1.1"/>
<line x1="1588.90" y1="383.00" x2="1588.90" y2="402.50" stroke="#000" stroke-width="1.1"/>
<line x1="1584.10" y1="383.00" x2="1593.70" y2="383.00" stroke="#000" stroke-width="1.1"/>
<line x1="1584.10" y1="402.50" x2="1593.70" y2="402.50" stroke="#000" stroke-width="1.1"/>
<line x1="980.50" y1="127.70" x2="980.50" y2="450.05" stroke="#000" stroke-width="1.1"/>
<line x1="979.95" y1="449.50" x2="1639.80" y2="449.50" stroke="#000" stroke-width="1.1"/>
<line x1="980.50" y1="128.25" x2="988.50" y2="128.25" stroke="#000" stroke-width="1.1"/>
<text transform="translate(951.50 137.65)" font-size="31" text-anchor="end">100</text>
<line x1="980.50" y1="193.25" x2="988.50" y2="193.25" stroke="#000" stroke-width="1.1"/>
<text transform="translate(951.50 202.65)" font-size="31" text-anchor="end">80</text>
<line x1="980.50" y1="257.50" x2="988.50" y2="257.50" stroke="#000" stroke-width="1.1"/>
<text transform="translate(951.50 266.90)" font-size="31" text-anchor="end">60</text>
<line x1="980.50" y1="321.75" x2="988.50" y2="321.75" stroke="#000" stroke-width="1.1"/>
<text transform="translate(951.50 331.15)" font-size="31" text-anchor="end">40</text>
<line x1="980.50" y1="385.75" x2="988.50" y2="385.75" stroke="#000" stroke-width="1.1"/>
<text transform="translate(951.50 395.15)" font-size="31" text-anchor="end">20</text>
<line x1="980.50" y1="449.50" x2="988.50" y2="449.50" stroke="#000" stroke-width="1.1"/>
<text transform="translate(951.50 458.90)" font-size="31" text-anchor="end">0</text>
<line x1="1199.75" y1="449.50" x2="1199.75" y2="440.50" stroke="#000" stroke-width="1.1"/>
<line x1="1418.75" y1="449.50" x2="1418.75" y2="440.50" stroke="#000" stroke-width="1.1"/>
<line x1="1639.25" y1="449.50" x2="1639.25" y2="440.50" stroke="#000" stroke-width="1.1"/>
<text transform="translate(1029.00 134.00) scale(1.08 1)" font-size="29" text-anchor="middle" stroke-width="0.3">a</text>
<text transform="translate(1069.00 148.00) scale(1.08 1)" font-size="29" text-anchor="middle" stroke-width="0.3">ab</text>
<text transform="translate(1109.00 167.70) scale(1.08 1)" font-size="29" text-anchor="middle" stroke-width="0.3">b</text>
<text transform="translate(1150.80 232.00) scale(1.08 1)" font-size="29" text-anchor="middle" stroke-width="0.3">c</text>
<text transform="translate(1249.00 424.30) scale(1.08 1)" font-size="29" text-anchor="middle" stroke-width="0.3">c</text>
<text transform="translate(1289.00 421.30) scale(1.08 1)" font-size="29" text-anchor="middle" stroke-width="0.3">c</text>
<text transform="translate(1328.50 404.20) scale(1.08 1)" font-size="29" text-anchor="middle" stroke-width="0.3">b</text>
<text transform="translate(1366.00 346.00) scale(1.08 1)" font-size="29" text-anchor="middle" stroke-width="0.3">a</text>
<text transform="translate(1468.70 421.70) scale(1.08 1)" font-size="29" text-anchor="middle" stroke-width="0.3">c</text>
<text transform="translate(1508.50 410.50) scale(1.08 1)" font-size="29" text-anchor="middle" stroke-width="0.3">b</text>
<text transform="translate(1548.50 410.50) scale(1.08 1)" font-size="29" text-anchor="middle" stroke-width="0.3">b</text>
<text transform="translate(1588.50 377.80) scale(1.08 1)" font-size="29" text-anchor="middle" stroke-width="0.3">a</text>
<text transform="translate(886.60 433.80) rotate(-90)" font-size="32" text-anchor="start"><tspan x="-0.91" textLength="101.59" lengthAdjust="spacingAndGlyphs">Relative</tspan> <tspan x="110.77" textLength="138.17" lengthAdjust="spacingAndGlyphs">abundance</tspan> <tspan x="251.36" textLength="47.95" lengthAdjust="spacingAndGlyphs">(%)</tspan></text>
<text transform="translate(1089.50 495.50) scale(1.016 1)" font-size="31.5" text-anchor="middle" stroke-width="0.35">Ascomycota</text>
<text transform="translate(1308.80 495.50) scale(1.016 1)" font-size="31.5" text-anchor="middle" stroke-width="0.35">Basidiomycota</text>
<text transform="translate(1528.80 495.50) scale(1.016 1)" font-size="31.5" text-anchor="middle" stroke-width="0.35">unclassified</text>
<text transform="translate(1633.00 139.50)" font-size="30" text-anchor="middle">D</text>
<rect x="1009.50" y="916.50" width="41.25" height="2.00" fill="#ffffff" stroke="#000" stroke-width="0.95"/>
<rect x="1050.75" y="906.00" width="39.50" height="12.50" fill="#6cb92d" stroke="#000" stroke-width="0.95"/>
<rect x="1090.25" y="907.25" width="40.50" height="11.25" fill="#e6161b" stroke="#000" stroke-width="0.95"/>
<rect x="1130.75" y="908.25" width="41.25" height="10.25" fill="#6a3391" stroke="#000" stroke-width="0.95"/>
<rect x="1231.50" y="914.00" width="39.50" height="4.50" fill="#ffffff" stroke="#000" stroke-width="0.95"/>
<rect x="1271.00" y="915.25" width="41.00" height="3.25" fill="#6cb92d" stroke="#000" stroke-width="0.95"/>
<rect x="1312.00" y="916.50" width="40.50" height="2.00" fill="#e6161b" stroke="#000" stroke-width="0.95"/>
<rect x="1352.50" y="894.50" width="40.00" height="24.00" fill="#6a3391" stroke="#000" stroke-width="0.95"/>
<rect x="1452.00" y="877.75" width="41.00" height="40.75" fill="#ffffff" stroke="#000" stroke-width="0.95"/>
<rect x="1493.00" y="802.00" width="40.50" height="116.50" fill="#6cb92d" stroke="#000" stroke-width="0.95"/>
<rect x="1533.50" y="631.75" width="40.00" height="286.75" fill="#e6161b" stroke="#000" stroke-width="0.95"/>
<rect x="1573.50" y="776.50" width="40.75" height="142.00" fill="#6a3391" stroke="#000" stroke-width="0.95"/>
<line x1="1070.70" y1="902.50" x2="1070.70" y2="909.50" stroke="#000" stroke-width="0.95"/>
<line x1="1066.10" y1="902.50" x2="1075.30" y2="902.50" stroke="#000" stroke-width="0.95"/>
<line x1="1066.10" y1="909.50" x2="1075.30" y2="909.50" stroke="#000" stroke-width="0.95"/>
<line x1="1110.70" y1="895.50" x2="1110.70" y2="918.00" stroke="#000" stroke-width="0.95"/>
<line x1="1106.10" y1="895.50" x2="1115.30" y2="895.50" stroke="#000" stroke-width="0.95"/>
<line x1="1106.10" y1="918.00" x2="1115.30" y2="918.00" stroke="#000" stroke-width="0.95"/>
<line x1="1151.58" y1="902.50" x2="1151.58" y2="914.25" stroke="#000" stroke-width="0.95"/>
<line x1="1146.98" y1="902.50" x2="1156.17" y2="902.50" stroke="#000" stroke-width="0.95"/>
<line x1="1146.98" y1="914.25" x2="1156.17" y2="914.25" stroke="#000" stroke-width="0.95"/>
<line x1="1251.45" y1="914.00" x2="1251.45" y2="915.50" stroke="#000" stroke-width="0.95"/>
<line x1="1246.85" y1="914.00" x2="1256.05" y2="914.00" stroke="#000" stroke-width="0.95"/>
<line x1="1246.85" y1="915.50" x2="1256.05" y2="915.50" stroke="#000" stroke-width="0.95"/>
<line x1="1291.70" y1="914.50" x2="1291.70" y2="916.00" stroke="#000" stroke-width="0.95"/>
<line x1="1287.10" y1="914.50" x2="1296.30" y2="914.50" stroke="#000" stroke-width="0.95"/>
<line x1="1287.10" y1="916.00" x2="1296.30" y2="916.00" stroke="#000" stroke-width="0.95"/>
<line x1="1332.45" y1="916.00" x2="1332.45" y2="917.00" stroke="#000" stroke-width="0.95"/>
<line x1="1327.85" y1="916.00" x2="1337.05" y2="916.00" stroke="#000" stroke-width="0.95"/>
<line x1="1327.85" y1="917.00" x2="1337.05" y2="917.00" stroke="#000" stroke-width="0.95"/>
<line x1="1372.70" y1="890.00" x2="1372.70" y2="899.25" stroke="#000" stroke-width="0.95"/>
<line x1="1368.10" y1="890.00" x2="1377.30" y2="890.00" stroke="#000" stroke-width="0.95"/>
<line x1="1368.10" y1="899.25" x2="1377.30" y2="899.25" stroke="#000" stroke-width="0.95"/>
<line x1="1472.70" y1="865.00" x2="1472.70" y2="892.00" stroke="#000" stroke-width="0.95"/>
<line x1="1468.10" y1="865.00" x2="1477.30" y2="865.00" stroke="#000" stroke-width="0.95"/>
<line x1="1468.10" y1="892.00" x2="1477.30" y2="892.00" stroke="#000" stroke-width="0.95"/>
<line x1="1513.45" y1="775.25" x2="1513.45" y2="829.25" stroke="#000" stroke-width="0.95"/>
<line x1="1508.85" y1="775.25" x2="1518.05" y2="775.25" stroke="#000" stroke-width="0.95"/>
<line x1="1508.85" y1="829.25" x2="1518.05" y2="829.25" stroke="#000" stroke-width="0.95"/>
<line x1="1553.70" y1="620.00" x2="1553.70" y2="643.50" stroke="#000" stroke-width="0.95"/>
<line x1="1549.10" y1="620.00" x2="1558.30" y2="620.00" stroke="#000" stroke-width="0.95"/>
<line x1="1549.10" y1="643.50" x2="1558.30" y2="643.50" stroke="#000" stroke-width="0.95"/>
<line x1="1594.08" y1="755.75" x2="1594.08" y2="798.75" stroke="#000" stroke-width="0.95"/>
<line x1="1589.48" y1="755.75" x2="1598.67" y2="755.75" stroke="#000" stroke-width="0.95"/>
<line x1="1589.48" y1="798.75" x2="1598.67" y2="798.75" stroke="#000" stroke-width="0.95"/>
<line x1="980.50" y1="605.27" x2="980.50" y2="918.98" stroke="#000" stroke-width="0.95"/>
<line x1="980.02" y1="918.50" x2="1645.47" y2="918.50" stroke="#000" stroke-width="0.95"/>
<line x1="980.50" y1="605.75" x2="988.50" y2="605.75" stroke="#000" stroke-width="0.95"/>
<text transform="translate(951.50 616.25) scale(1.05 1)" font-size="31" text-anchor="end">0.8</text>
<line x1="980.50" y1="684.25" x2="988.50" y2="684.25" stroke="#000" stroke-width="0.95"/>
<text transform="translate(951.50 694.75) scale(1.05 1)" font-size="31" text-anchor="end">0.6</text>
<line x1="980.50" y1="762.75" x2="988.50" y2="762.75" stroke="#000" stroke-width="0.95"/>
<text transform="translate(951.50 773.25) scale(1.05 1)" font-size="31" text-anchor="end">0.4</text>
<line x1="980.50" y1="840.75" x2="988.50" y2="840.75" stroke="#000" stroke-width="0.95"/>
<text transform="translate(951.50 851.25) scale(1.05 1)" font-size="31" text-anchor="end">0.2</text>
<line x1="980.50" y1="918.50" x2="988.50" y2="918.50" stroke="#000" stroke-width="0.95"/>
<text transform="translate(951.50 929.00)" font-size="31" text-anchor="end">0</text>
<line x1="1200.75" y1="918.50" x2="1200.75" y2="909.50" stroke="#000" stroke-width="0.95"/>
<line x1="1423.00" y1="918.50" x2="1423.00" y2="909.50" stroke="#000" stroke-width="0.95"/>
<line x1="1645.00" y1="918.50" x2="1645.00" y2="909.50" stroke="#000" stroke-width="0.95"/>
<text transform="translate(1031.00 896.50) scale(1.08 1)" font-size="29" text-anchor="middle" stroke-width="0.3">b</text>
<text transform="translate(1070.00 891.00) scale(1.08 1)" font-size="29" text-anchor="middle" stroke-width="0.3">a</text>
<text transform="translate(1105.00 876.00) scale(1.08 1)" font-size="29" text-anchor="middle" stroke-width="0.3">a</text>
<text transform="translate(1150.50 892.00) scale(1.08 1)" font-size="29" text-anchor="middle" stroke-width="0.3">a</text>
<text transform="translate(1253.50 897.00) scale(1.08 1)" font-size="29" text-anchor="middle" stroke-width="0.3">b</text>
<text transform="translate(1293.50 898.70) scale(1.08 1)" font-size="29" text-anchor="middle" stroke-width="0.3">b</text>
<text transform="translate(1332.50 898.70) scale(1.08 1)" font-size="29" text-anchor="middle" stroke-width="0.3">b</text>
<text transform="translate(1374.00 875.00) scale(1.08 1)" font-size="29" text-anchor="middle" stroke-width="0.3">a</text>
<text transform="translate(1476.00 848.70) scale(1.08 1)" font-size="29" text-anchor="middle" stroke-width="0.3">c</text>
<text transform="translate(1513.00 758.70) scale(1.08 1)" font-size="29" text-anchor="middle" stroke-width="0.3">b</text>
<text transform="translate(1555.50 603.70) scale(1.08 1)" font-size="29" text-anchor="middle" stroke-width="0.3">a</text>
<text transform="translate(1597.50 734.00) scale(1.08 1)" font-size="29" text-anchor="middle" stroke-width="0.3">b</text>
<text transform="translate(881.80 907.60) rotate(-90)" font-size="33.6" text-anchor="start"><tspan x="-0.92" textLength="102.51" lengthAdjust="spacingAndGlyphs">Relative</tspan> <tspan x="111.29" textLength="182.61" lengthAdjust="spacingAndGlyphs">abundance(%)</tspan></text>
<text transform="translate(1076.70 964.40) scale(1.015 1)" font-size="28.5" text-anchor="middle" stroke-width="0.3">Chytridiomycota</text>
<text transform="translate(1310.00 964.40) scale(1.015 1)" font-size="28.5" text-anchor="middle" stroke-width="0.3">Glomeromycota</text>
<text transform="translate(1539.40 964.40) scale(1.015 1)" font-size="28.5" text-anchor="middle" stroke-width="0.3">Zygomycota</text>
<text transform="translate(1637.00 610.30)" font-size="30" text-anchor="middle">E</text>
</svg>
</body>
</html>
